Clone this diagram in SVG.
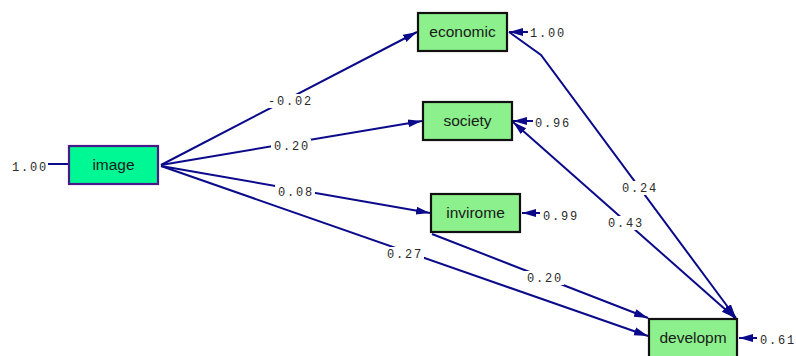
<svg xmlns="http://www.w3.org/2000/svg" width="796" height="356" viewBox="0 0 796 356">
<style>
.box{fill:#8CF08C;stroke:#111;stroke-width:2.2}
.exo{fill:#00F894;stroke:#4A1A8A;stroke-width:2.2}
.nt{font-family:"Liberation Sans",Arial,sans-serif;font-size:15.5px;fill:#1a1a1a;text-anchor:middle}
.lb{font-family:"Liberation Mono","Courier New",monospace;font-size:12px;letter-spacing:1.8px;fill:#2a2a2a}
.bg{fill:#fff}
.ed{fill:none;stroke:#0A0A8A;stroke-width:2}
</style>
<defs>
<marker id="ah" markerUnits="userSpaceOnUse" markerWidth="15" markerHeight="10" refX="14" refY="5" orient="auto-start-reverse">
<path d="M0,1 L14,5 L0,9 z" fill="#0A0A8A"/>
</marker>
</defs>
<g id="connectors">
<path class="ed" d="M161,165 L417,32" marker-end="url(#ah)"/>
<path class="ed" d="M161,165 L422,121" marker-end="url(#ah)"/>
<path class="ed" d="M161,166 L430,213" marker-end="url(#ah)"/>
<path class="ed" d="M161,166 L648,336" marker-end="url(#ah)"/>
<path class="ed" d="M432,234 L648,318" marker-end="url(#ah)"/>
<path class="ed" d="M509,32 L541,55 L736,318" marker-end="url(#ah)"/>
<path class="ed" d="M513,122 L735,318" marker-start="url(#ah)" marker-end="url(#ah)"/>
<path class="ed" d="M48,164 L68,164"/>
<path class="ed" d="M528,32 L509,32" marker-end="url(#ah)"/>
<path class="ed" d="M533,121 L513,121" marker-end="url(#ah)"/>
<path class="ed" d="M540,213 L522,213" marker-end="url(#ah)"/>
<path class="ed" d="M757,338 L739,338" marker-end="url(#ah)"/>
</g>
<g id="labels">
<rect class="bg" x="265" y="94" width="49" height="14"/>
<rect class="bg" x="271" y="139" width="40" height="14"/>
<rect class="bg" x="275" y="185" width="40" height="14"/>
<rect class="bg" x="384" y="247" width="40" height="14"/>
<rect class="bg" x="524" y="271" width="40" height="14"/>
<rect class="bg" x="619" y="181" width="40" height="14"/>
<rect class="bg" x="605" y="216" width="40" height="14"/>
<text class="lb" x="268" y="105">-0.02</text>
<text class="lb" x="274" y="150">0.20</text>
<text class="lb" x="278" y="196">0.08</text>
<text class="lb" x="387" y="258">0.27</text>
<text class="lb" x="527" y="282">0.20</text>
<text class="lb" x="622" y="192">0.24</text>
<text class="lb" x="608" y="227">0.43</text>
<text class="lb" x="530" y="37">1.00</text>
<text class="lb" x="535" y="127">0.96</text>
<text class="lb" x="543" y="220">0.99</text>
<text class="lb" x="760" y="344">0.61</text>
<text class="lb" x="12" y="171">1.00</text>
</g>
<g id="image"><rect class="exo" x="69" y="146" width="89" height="38"/><text class="nt" x="113.5" y="170">image</text></g>
<g id="economic"><rect class="box" x="418" y="13" width="89" height="38"/><text class="nt" x="462.5" y="37">economic</text></g>
<g id="society"><rect class="box" x="423" y="102" width="89" height="38"/><text class="nt" x="467.5" y="126">society</text></g>
<g id="invirome"><rect class="box" x="431" y="194" width="89" height="38"/><text class="nt" x="475.5" y="218">invirome</text></g>
<g id="developm"><rect class="box" x="649" y="319" width="88" height="40"/><text class="nt" x="693" y="343">developm</text></g>
</svg>
